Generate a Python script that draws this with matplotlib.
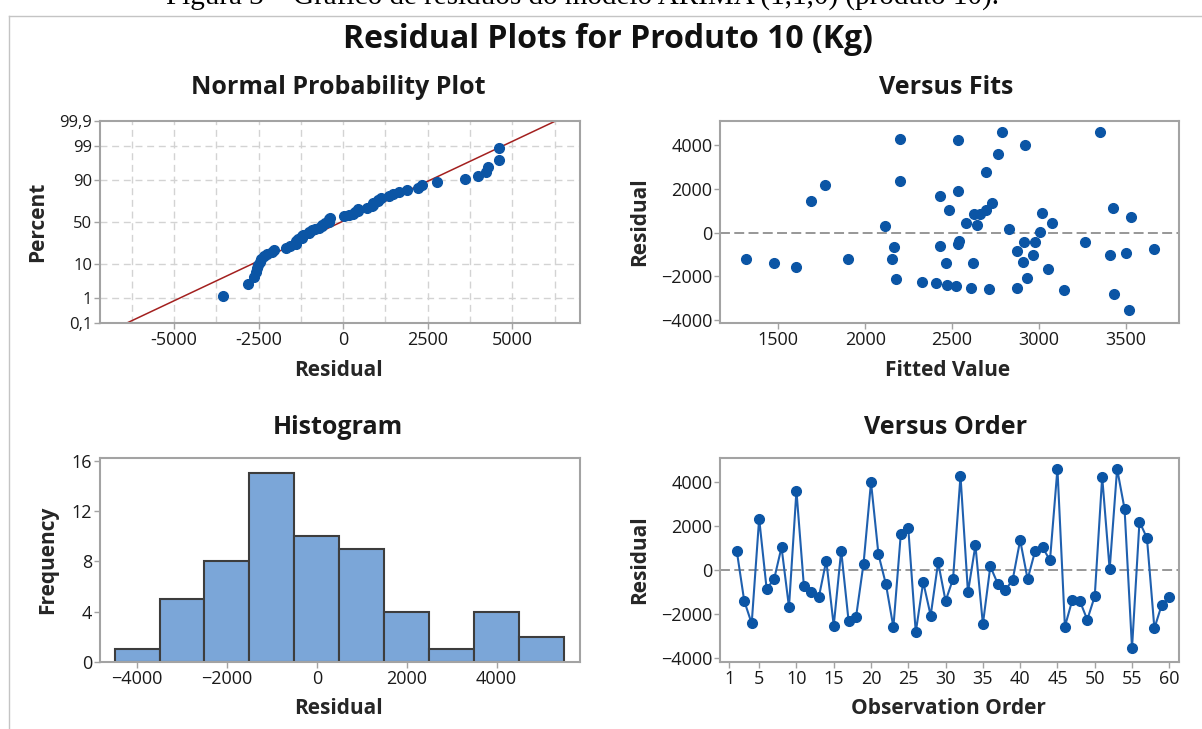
import numpy as np
import matplotlib
matplotlib.use("Agg")
import matplotlib.pyplot as plt
from statistics import NormalDist

# ---------------- data ----------------
observation = list(range(2, 61))
residuals = [870, -1400, -2420, 2340, -840, -420, 1040, -1680, 3600, -730,
             -1010, -1230, 430, -2520, 880, -2330, -2110, 300, 3990, 710,
             -640, -2590, 1660, 1890, -2820, -540, -2060, 350, -1400, -400,
             4280, -1010, 1130, -2450, 170, -620, -920, -430, 1360, -410,
             860, 1030, 450, 4600, -2560, -1350, -1400, -2250, -1190, 4230,
             30, 4600, 2780, -3540, 2200, 1460, -2640, -1560, -1230]
fitted = [2664, 1475, 2473, 2203, 2877, 2980, 2693, 3051, 2764, 3662,
          2969, 1316, 3078, 2873, 3016, 2406, 2176, 2115, 2920, 3533,
          2166, 2715, 2428, 2535, 3432, 2535, 2930, 2643, 2623, 2540,
          2203, 3410, 3426, 2525, 2826, 2428, 3504, 2914, 2730, 3266,
          2627, 2484, 2582, 2787, 2611, 2910, 2467, 2326, 2156, 2535,
          3006, 3350, 2693, 3518, 1770, 1689, 3145, 1602, 1902]
hist_edges = [-4500, -3500, -2500, -1500, -500, 500, 1500, 2500, 3500, 4500, 5500]

npp_pct_ticks = [0.1, 1, 10, 50, 90, 99, 99.9]
npp_pct_labels = ["0,1", "1", "10", "50", "90", "99", "99,9"]
npp_x_ticks = [-5000, -2500, 0, 2500, 5000]
fits_x_ticks = [1500, 2000, 2500, 3000, 3500]
resid_ticks = [-4000, -2000, 0, 2000, 4000]
hist_x_ticks = [-4000, -2000, 0, 2000, 4000]
hist_y_ticks = [0, 4, 8, 12, 16]
order_ticks = [1, 5, 10, 15, 20, 25, 30, 35, 40, 45, 50, 55, 60]

main_title = "Residual Plots for Produto 10 (Kg)"
caption = "Figura 3 – Gráfico de resíduos do modelo ARIMA (1,1,0) (produto 10)."

# ---------------- style ----------------
FONT = ["Open Sans", "Noto Sans", "DejaVu Sans"]
plt.rcParams["font.family"] = FONT
BLUE = "#0B55A5"
LINEBLUE = "#1F60AF"
FRAME = "#a3a3a3"
TXT = "#1a1a1a"

W, H = 1202, 729
fig = plt.figure(figsize=(W / 100, H / 100), dpi=100)


def rect(x0, y0, x1, y1):
    return [x0 / W, 1 - y1 / H, (x1 - x0) / W, (y1 - y0) / H]


def fx(x):
    return x / W


def fy(y):
    return 1 - y / H


def style_axes(ax):
    for s in ax.spines.values():
        s.set_color(FRAME)
        s.set_linewidth(1.5)
    ax.tick_params(direction="out", length=4, width=1, color=FRAME,
                   labelsize=13, labelcolor=TXT, pad=1.5)


def label(x, y, s, rot=0, size=15):
    fig.text(fx(x), fy(y), s, ha="center", va="center", rotation=rot,
             fontsize=size, fontweight="bold", color="#262626")


def title(x, y, s):
    fig.text(fx(x), fy(y), s, ha="center", va="center", fontsize=18,
             fontweight="bold", color="#1a1a1a")


nd = NormalDist()
res = np.array(residuals, dtype=float)
n = len(res)

# ---------------- Normal probability plot ----------------
ax1 = fig.add_axes(rect(100, 121, 580, 323))
style_axes(ax1)
zlim = nd.inv_cdf(0.001)
ax1.set_ylim(zlim, -zlim)
ax1.set_xlim(-7190, 7000)
srt = np.sort(res)
pct = (np.arange(1, n + 1) - 0.3) / (n + 0.4)
z = np.array([nd.inv_cdf(p) for p in pct])
for gx in np.arange(-6250, 6251, 1250):
    ax1.axvline(gx, color="#d3d3d3", lw=1, ls=(0, (5, 3.4)), zorder=0)
for p in npp_pct_ticks[1:-1]:
    ax1.axhline(nd.inv_cdf(p / 100), color="#d3d3d3", lw=1, ls=(0, (5, 3.4)), zorder=0)
mu, sd = res.mean(), res.std(ddof=1)
zl = np.array([zlim, -zlim])
ax1.plot(mu + sd * zl, zl, color="#A3201F", lw=1.1, zorder=2)
ax1.plot(srt, z, ls="none", marker="o", ms=7, color=BLUE, zorder=3)
ax1.set_yticks([nd.inv_cdf(p / 100) for p in npp_pct_ticks])
ax1.set_yticklabels(npp_pct_labels)
ax1.set_xticks(npp_x_ticks)
ax1.set_xticklabels([str(v) for v in npp_x_ticks])
ax1.tick_params(axis="y", labelsize=12)

# ---------------- Versus fits ----------------
ax2 = fig.add_axes(rect(720, 121, 1179, 323))
style_axes(ax2)
ax2.set_xlim(1164, 3807)
ax2.set_ylim(-4140, 5110)
ax2.axhline(0, color="#8f8f8f", lw=1.3, ls=(0, (5.5, 2.4)), zorder=1)
ax2.plot(fitted, residuals, ls="none", marker="o", ms=7, color=BLUE, zorder=3)
ax2.set_xticks(fits_x_ticks)
ax2.set_yticks(resid_ticks)

# ---------------- Histogram ----------------
ax3 = fig.add_axes(rect(100, 458, 580, 662))
style_axes(ax3)
ax3.hist(res, bins=hist_edges, color="#7BA6D8", edgecolor="#3d3d3d", linewidth=1.5, zorder=2)
ax3.set_xlim(-4825, 5856)
ax3.set_ylim(0, 16.2)
ax3.set_xticks(hist_x_ticks)
ax3.set_yticks(hist_y_ticks)

# ---------------- Versus order ----------------
ax4 = fig.add_axes(rect(720, 458, 1179, 662))
style_axes(ax4)
ax4.set_xlim(-0.25, 61.3)
ax4.set_ylim(-4170, 5090)
ax4.axhline(0, color="#8f8f8f", lw=1.3, ls=(0, (5.5, 2.4)), zorder=1)
ax4.plot(observation, residuals, color=LINEBLUE, lw=1.5, marker="o", ms=7,
         mfc=BLUE, mec=BLUE, zorder=3)
ax4.set_xticks(order_ticks)
ax4.set_yticks(resid_ticks)

# ---------------- texts ----------------
fig.text(fx(608), fy(40), main_title, ha="center", va="center", fontsize=23,
         fontweight="bold", color="#111111")
title(338, 88, "Normal Probability Plot")
title(946, 88, "Versus Fits")
title(338, 427, "Histogram")
title(946, 427, "Versus Order")

label(338, 370, "Residual")
label(38, 222, "Percent", rot=90)
label(948, 370, "Fitted Value")
label(640, 222, "Residual", rot=90)
label(338, 709, "Residual")
label(48, 560, "Frequency", rot=90)
label(948, 709, "Observation Order")
label(640, 560, "Residual", rot=90)

# caption cut at the top of the page and embedded-graph border
fig.text(fx(582), fy(4), caption, ha="center", va="baseline", fontsize=21,
         family=["Liberation Serif", "DejaVu Serif"], color="#000000")
fig.add_artist(plt.Line2D([fx(9), fx(1202)], [fy(16), fy(16)], color="#c4c4c4", lw=1))
fig.add_artist(plt.Line2D([fx(9), fx(9)], [fy(16), fy(729)], color="#c4c4c4", lw=1))

fig.savefig("out.png", dpi=100)
